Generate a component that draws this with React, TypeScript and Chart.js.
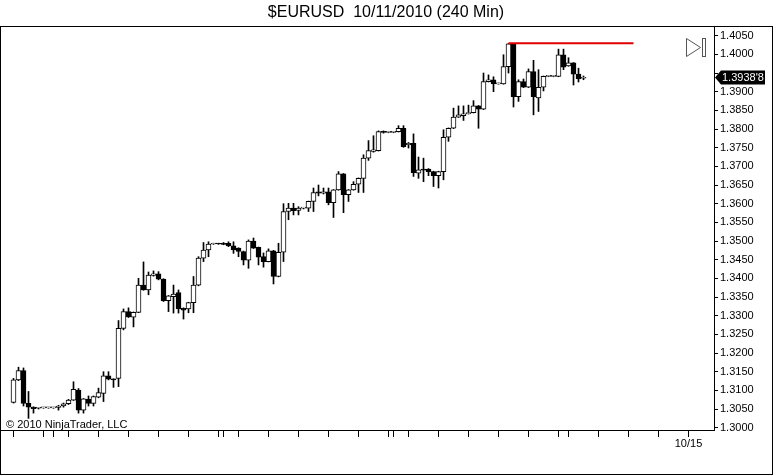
import { useEffect, useRef } from 'react';
import { Chart, registerables } from 'chart.js';

Chart.register(...registerables);

// ---- data: 240-minute EURUSD candles (index 0 = first bar) ----
const opens = [
  1.3068, 1.3128, 1.3153, 1.3065, 1.3055, 1.3052, 1.3053, 1.3053, 1.3053, 1.3054,
  1.3058, 1.3064, 1.3074, 1.3101, 1.3047, 1.3076, 1.3065, 1.3082, 1.3092, 1.3139,
  1.3130, 1.3132, 1.3266, 1.3311, 1.3296, 1.3309, 1.3382, 1.3369, 1.3408, 1.3412,
  1.3398, 1.3340, 1.3351, 1.3362, 1.3320, 1.3318, 1.3335, 1.3382, 1.3454, 1.3476,
  1.3492, 1.3493, 1.3494, 1.3494, 1.3487, 1.3481, 1.3472, 1.3449, 1.3500, 1.3483,
  1.3458, 1.3445, 1.3474, 1.3405, 1.3470, 1.3579, 1.3588, 1.3582, 1.3588, 1.3588,
  1.3606, 1.3632, 1.3628, 1.3632, 1.3603, 1.3637, 1.3680, 1.3624, 1.3637, 1.3652,
  1.3668, 1.3722, 1.3740, 1.3742, 1.3793, 1.3791, 1.3791, 1.3793, 1.3802, 1.3758,
  1.3762, 1.3682, 1.3691, 1.3693, 1.3686, 1.3675, 1.3686, 1.3778, 1.3802, 1.3832,
  1.3836, 1.3841, 1.3844, 1.3862, 1.3853, 1.3927, 1.3932, 1.3921, 1.3921, 1.3967,
  1.4028, 1.3887, 1.3927, 1.3912, 1.3954, 1.3883, 1.3912, 1.3941, 1.3941, 1.3941,
  1.3999, 1.3969, 1.3977, 1.3947, 1.3936,
];
const highs = [
  1.3132, 1.3162, 1.3160, 1.3097, 1.3056, 1.3054, 1.3054, 1.3054, 1.3054, 1.3060,
  1.3066, 1.3076, 1.3123, 1.3105, 1.3078, 1.3085, 1.3085, 1.3106, 1.3150, 1.3150,
  1.3131, 1.3287, 1.3318, 1.3321, 1.3310, 1.3400, 1.3444, 1.3417, 1.3420, 1.3418,
  1.3399, 1.3354, 1.3382, 1.3369, 1.3321, 1.3336, 1.3405, 1.3458, 1.3496, 1.3498,
  1.3494, 1.3494, 1.3496, 1.3498, 1.3498, 1.3482, 1.3473, 1.3503, 1.3508, 1.3484,
  1.3468, 1.3479, 1.3475, 1.3494, 1.3600, 1.3601, 1.3601, 1.3592, 1.3590, 1.3607,
  1.3642, 1.3650, 1.3642, 1.3642, 1.3638, 1.3686, 1.3681, 1.3638, 1.3659, 1.3669,
  1.3731, 1.3769, 1.3782, 1.3795, 1.3795, 1.3792, 1.3792, 1.3809, 1.3809, 1.3764,
  1.3787, 1.3725, 1.3722, 1.3694, 1.3687, 1.3687, 1.3798, 1.3803, 1.3856, 1.3862,
  1.3862, 1.3864, 1.3876, 1.3863, 1.3950, 1.3945, 1.3940, 1.3923, 1.3999, 1.4029,
  1.4029, 1.3932, 1.3934, 1.3961, 1.3984, 1.3959, 1.3942, 1.3943, 1.3943, 1.4014,
  1.4014, 1.3991, 1.3978, 1.3963, 1.3942,
];
const lows = [
  1.3066, 1.3126, 1.3058, 1.3025, 1.3039, 1.3050, 1.3052, 1.3052, 1.3052, 1.3047,
  1.3055, 1.3062, 1.3073, 1.3039, 1.3039, 1.3058, 1.3058, 1.3080, 1.3070, 1.3128,
  1.3108, 1.3110, 1.3262, 1.3295, 1.3270, 1.3308, 1.3368, 1.3356, 1.3406, 1.3396,
  1.3338, 1.3311, 1.3307, 1.3307, 1.3291, 1.3308, 1.3308, 1.3380, 1.3445, 1.3458,
  1.3491, 1.3491, 1.3490, 1.3485, 1.3467, 1.3458, 1.3436, 1.3427, 1.3480, 1.3436,
  1.3430, 1.3444, 1.3385, 1.3404, 1.3445, 1.3557, 1.3570, 1.3570, 1.3586, 1.3579,
  1.3579, 1.3621, 1.3626, 1.3597, 1.3563, 1.3636, 1.3576, 1.3606, 1.3636, 1.3630,
  1.3630, 1.3716, 1.3738, 1.3741, 1.3789, 1.3790, 1.3790, 1.3792, 1.3751, 1.3749,
  1.3673, 1.3668, 1.3659, 1.3675, 1.3646, 1.3642, 1.3664, 1.3767, 1.3801, 1.3831,
  1.3823, 1.3840, 1.3843, 1.3802, 1.3852, 1.3926, 1.3900, 1.3920, 1.3920, 1.3950,
  1.3859, 1.3874, 1.3911, 1.3911, 1.3838, 1.3847, 1.3902, 1.3940, 1.3940, 1.3940,
  1.3959, 1.3968, 1.3918, 1.3926, 1.3932,
];
const closes = [
  1.3128, 1.3153, 1.3065, 1.3055, 1.3051, 1.3053, 1.3053, 1.3053, 1.3053, 1.3058,
  1.3064, 1.3074, 1.3103, 1.3047, 1.3077, 1.3065, 1.3083, 1.3094, 1.3139, 1.3130,
  1.3128, 1.3266, 1.3311, 1.3297, 1.3309, 1.3382, 1.3369, 1.3409, 1.3412, 1.3398,
  1.3340, 1.3353, 1.3358, 1.3318, 1.3315, 1.3335, 1.3382, 1.3454, 1.3476, 1.3492,
  1.3493, 1.3492, 1.3491, 1.3487, 1.3476, 1.3472, 1.3449, 1.3500, 1.3481, 1.3457,
  1.3445, 1.3474, 1.3405, 1.3470, 1.3579, 1.3588, 1.3581, 1.3588, 1.3589, 1.3606,
  1.3630, 1.3628, 1.3632, 1.3603, 1.3637, 1.3680, 1.3624, 1.3637, 1.3652, 1.3668,
  1.3722, 1.3742, 1.3744, 1.3793, 1.3791, 1.3791, 1.3791, 1.3802, 1.3753, 1.3762,
  1.3683, 1.3691, 1.3690, 1.3686, 1.3675, 1.3686, 1.3778, 1.3802, 1.3832, 1.3838,
  1.3841, 1.3844, 1.3862, 1.3853, 1.3927, 1.3932, 1.3921, 1.3922, 1.3967, 1.4028,
  1.3887, 1.3927, 1.3912, 1.3954, 1.3887, 1.3912, 1.3941, 1.3942, 1.3942, 1.3999,
  1.3966, 1.3977, 1.3947, 1.3934, 1.39388,
];

const yTickValues = [
  1.3, 1.305, 1.31, 1.315, 1.32, 1.325, 1.33, 1.335, 1.34, 1.345, 1.35,
  1.355, 1.36, 1.365, 1.37, 1.375, 1.38, 1.385, 1.39, 1.395, 1.4, 1.405,
];
const xTickIndices = [
  0, 6, 8, 11, 17, 23, 29, 35, 41, 42, 45, 51, 57, 63, 69, 75, 76, 79, 85,
  91, 97, 103, 109, 111, 117, 123, 129, 135,
];
const xTickLabels: Record<number, string> = { 135: '10/15' };

const resistanceLevel = 1.403;
const resistanceFrom = 99;
const resistanceTo = 124;

const titleText = '$EURUSD  10/11/2010 (240 Min)';
const copyrightText = '\u00A9 2010 NinjaTrader, LLC';

const FONT = '"Liberation Sans", Arial, sans-serif';

function formatLast(v: number): string {
  const s = v.toFixed(5);
  return s.slice(0, 6) + "'" + s.slice(6);
}

const decorPlugin = {
  id: 'decor',
  afterDraw(chart: any) {
    const ctx = chart.ctx as CanvasRenderingContext2D;
    ctx.save();
    // outer frame
    ctx.strokeStyle = '#000';
    ctx.lineWidth = 1;
    ctx.strokeRect(0.5, 26.5, 772, 448);
    // title
    ctx.fillStyle = '#000';
    ctx.font = '16px ' + FONT;
    ctx.textAlign = 'center';
    ctx.textBaseline = 'middle';
    ctx.fillText(titleText, 386, 13);
    // copyright
    ctx.font = '11px ' + FONT;
    ctx.textAlign = 'left';
    ctx.textBaseline = 'alphabetic';
    ctx.fillText(copyrightText, 6, 428);
    // last price marker
    const last = closes[closes.length - 1];
    const yPix = Math.round(chart.scales.y.getPixelForValue(last)) + 0.5;
    ctx.fillStyle = '#000';
    ctx.beginPath();
    ctx.moveTo(715, yPix);
    ctx.lineTo(721, yPix - 7);
    ctx.lineTo(765, yPix - 7);
    ctx.lineTo(765, yPix + 7);
    ctx.lineTo(721, yPix + 7);
    ctx.closePath();
    ctx.fill();
    ctx.fillStyle = '#fff';
    ctx.font = '11px ' + FONT;
    ctx.textBaseline = 'middle';
    ctx.fillText(formatLast(last), 722, yPix + 0.5);
    // "go to end" icon
    ctx.strokeStyle = '#555';
    ctx.beginPath();
    ctx.moveTo(686.5, 38.5);
    ctx.lineTo(700.5, 47.5);
    ctx.lineTo(686.5, 56.5);
    ctx.closePath();
    ctx.stroke();
    ctx.strokeRect(702.5, 38.5, 3, 18);
    ctx.restore();
  },
};

export default function App() {
  const canvasRef = useRef<HTMLCanvasElement | null>(null);

  useEffect(() => {
    const canvas = canvasRef.current;
    if (!canvas) return;
    const bodyColors = closes.map((c, i) => (c >= opens[i] ? '#ffffff' : '#000000'));
    const last = closes[closes.length - 1];

    const chart = new Chart(canvas, {
      type: 'bar',
      data: {
        datasets: [
          {
            type: 'line',
            data: [
              { x: resistanceFrom, y: resistanceLevel },
              { x: resistanceTo, y: resistanceLevel },
            ],
            borderColor: '#e00000',
            borderWidth: 2,
            pointRadius: 0,
            order: -1,
          } as any,
          {
            data: opens.map((o, i) => ({ x: i, y: [o, closes[i]] })),
            backgroundColor: bodyColors,
            borderColor: '#000',
            borderWidth: 1,
            borderSkipped: false,
            barThickness: 5,
            minBarLength: 1,
            grouped: false,
            order: 0,
          } as any,
          {
            data: lows.map((l, i) => ({ x: i, y: [l, highs[i]] })),
            backgroundColor: '#000',
            borderWidth: 0,
            barThickness: 1,
            minBarLength: 1,
            grouped: false,
            order: 1,
          } as any,
        ],
      },
      options: {
        responsive: false,
        animation: false,
        devicePixelRatio: 1,
        events: [],
        layout: { padding: { left: 1, top: 27, right: 4, bottom: 1 } },
        plugins: {
          legend: { display: false },
          tooltip: { enabled: false },
          title: { display: false },
        },
        scales: {
          x: {
            type: 'linear',
            min: -2.5,
            max: 140.1,
            offset: false,
            grid: {
              display: true,
              drawOnChartArea: false,
              drawTicks: true,
              tickLength: 7,
              tickColor: '#000',
              offset: false,
            },
            border: { display: true, color: '#000', width: 1 },
            ticks: {
              autoSkip: false,
              maxRotation: 0,
              minRotation: 0,
              padding: 0,
              color: '#000',
              font: { family: FONT, size: 11 },
              callback: (v: any) => xTickLabels[Number(v)] ?? '',
            },
            afterBuildTicks: (s: any) => {
              s.ticks = xTickIndices.map((v) => ({ value: v }));
            },
            afterFit: (s: any) => {
              s.height = 44;
            },
          },
          y: {
            type: 'linear',
            position: 'right',
            min: 1.29938,
            max: 1.40733,
            beginAtZero: false,
            grid: {
              display: true,
              drawOnChartArea: false,
              drawTicks: true,
              tickLength: 4,
              tickColor: '#000',
            },
            border: { display: true, color: '#000', width: 1 },
            ticks: {
              padding: 2,
              color: '#000',
              font: { family: FONT, size: 11 },
              callback: (v: any) =>
                Math.abs(Number(v) - last) < 0.0015 ? '' : Number(v).toFixed(4),
            },
            afterBuildTicks: (s: any) => {
              s.ticks = yTickValues.map((v) => ({ value: v }));
            },
            afterFit: (s: any) => {
              s.width = 58;
            },
          },
        },
      } as any,
      plugins: [decorPlugin],
    });
    return () => chart.destroy();
  }, []);

  return (
    <div style={{ position: 'absolute', left: 0, top: 0, width: 776, height: 475, background: '#fff' }}>
      <canvas ref={canvasRef} width={776} height={475} style={{ display: 'block' }} />
    </div>
  );
}
